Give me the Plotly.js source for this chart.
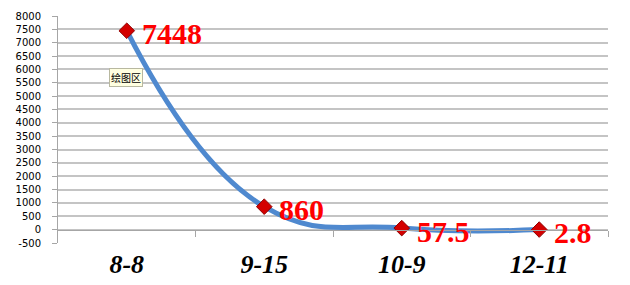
<!DOCTYPE html>
<html><head><meta charset="utf-8">
<script src="https://cdn.plot.ly/plotly-3.0.1.min.js"></script>
<style>body{margin:0;background:#fff}#c{width:630px;height:285px}</style>
</head><body><div id="c"></div>
<script>
const categories = ['8-8', '9-15', '10-9', '12-11'];
const values = [7448, 860, 57.5, 2.8];
const valueLabels = ['7448', '860', '57.5', '2.8'];
const yTicks = [-500,0,500,1000,1500,2000,2500,3000,3500,4000,4500,5000,5500,6000,6500,7000,7500,8000];
const xIdx = categories.map((c, i) => i);

const trace = {
  x: xIdx, y: values,
  type: 'scatter', mode: 'lines+markers',
  line: {shape: 'spline', smoothing: 1.3, color: '#4f89cf', width: 5},
  marker: {symbol: 'diamond', size: 12, color: '#d40000', line: {color: '#900000', width: 1}},
  cliponaxis: false,
  hoverinfo: 'none'
};
const tickTrace = {x: [0.5], y: [0], xaxis: 'x2', yaxis: 'y', mode: 'markers', marker: {opacity: 0}, hoverinfo: 'none', showlegend: false};

const labelAnns = xIdx.map((x, i) => ({
  x: x, y: values[i], xref: 'x', yref: 'y', text: valueLabels[i], showarrow: false,
  xanchor: 'left', yanchor: 'middle', xshift: 13, yshift: -3,
  font: {family: 'Liberation Serif, Times New Roman, serif', size: 30, color: '#ff0000', weight: 'bold'}
}));

const layout = {
  width: 630, height: 285,
  margin: {l: 58, r: 22, t: 16, b: 42},
  paper_bgcolor: '#fff', plot_bgcolor: '#fff',
  showlegend: false,
  xaxis: {
    type: 'linear', range: [-0.5, 3.5],
    tickvals: xIdx, ticktext: categories,
    showgrid: false, zeroline: false, showline: false, ticks: '',
    ticklabelstandoff: 3,
    tickfont: {family: 'Liberation Serif, Times New Roman, serif', size: 26, color: '#000', weight: 'bold', style: 'italic'}
  },
  xaxis2: {
    overlaying: 'x', anchor: 'free', position: 500/8500,
    type: 'linear', range: [-0.5, 3.5],
    tickvals: [0.5, 1.5, 2.5, 3.5], showticklabels: false,
    ticks: 'outside', ticklen: 6, tickcolor: '#a6a6a6', tickwidth: 1,
    showline: true, linecolor: '#a6a6a6', linewidth: 1, showgrid: false, zeroline: false
  },
  yaxis: {
    range: [-500, 8000], tickvals: yTicks, ticktext: yTicks.map(String),
    showgrid: true, gridcolor: '#c4c4c4', gridwidth: 2,
    zeroline: false,
    showline: true, linecolor: '#a6a6a6', linewidth: 1,
    ticks: 'outside', ticklen: 5, tickcolor: '#a6a6a6',
    ticklabelstandoff: 9,
    tickfont: {family: 'DejaVu Sans, Verdana, sans-serif', size: 10, color: '#000'}
  },
  annotations: labelAnns.concat([{
    xref: 'paper', yref: 'paper', x: 0.1236, y: 0.729, xanchor: 'center', yanchor: 'middle',
    text: '绘图区', showarrow: false,
    font: {family: 'Noto Sans CJK SC, sans-serif', size: 10, color: '#000'},
    bgcolor: '#ffffe1', bordercolor: '#b8b8a0', borderwidth: 1, borderpad: 1
  }])
};
Plotly.newPlot('c', [tickTrace, trace], layout, {displayModeBar: false, staticPlot: true});
</script>
</body></html>
